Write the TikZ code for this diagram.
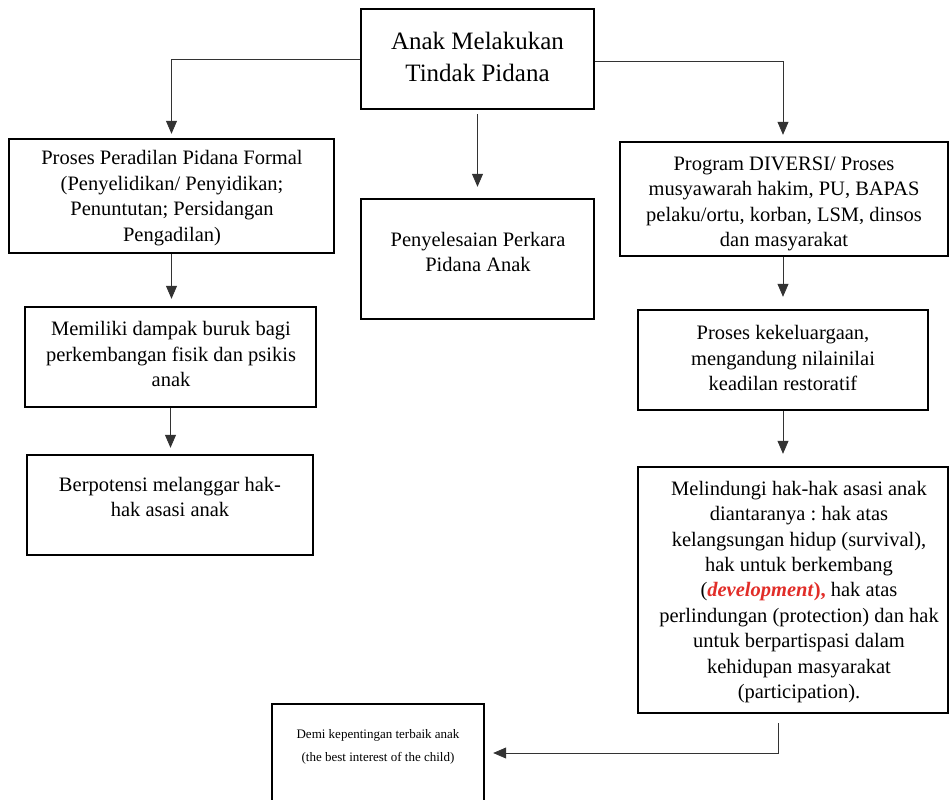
\documentclass[tikz,border=0pt]{standalone}
\usepackage{fontspec}
\setmainfont{Liberation Serif}
\usetikzlibrary{arrows.meta}
\definecolor{devred}{RGB}{225,45,40}
\frenchspacing
\tikzset{
  box/.style={draw=black, line width=2.4pt, rectangle, inner sep=0pt},
  txt/.style={align=center, inner sep=0pt, font=\fontsize{20.5}{25.4}\selectfont},
  arr/.style={draw=black!80, line width=0.8pt, -{Triangle[length=13pt,width=11pt]}}
}
\newcommand{\devword}{\textcolor{devred}{\bfseries\textit{development}),}}
\begin{document}
\begin{tikzpicture}[x=1pt,y=-1pt]
\useasboundingbox (0,0) rectangle (950,800);
% boxes
\node[box, minimum width=233pt, minimum height=100pt] (top) at (477.5,59) {};
\node[box, minimum width=325pt, minimum height=114pt] (L1) at (171.5,196) {};
\node[box, minimum width=233pt, minimum height=120pt] (M) at (477.5,259) {};
\node[box, minimum width=328pt, minimum height=114pt] (R1) at (784,199) {};
\node[box, minimum width=291pt, minimum height=100pt] (L2) at (170.5,357) {};
\node[box, minimum width=286pt, minimum height=100pt] (L3) at (170,505) {};
\node[box, minimum width=290pt, minimum height=100pt] (R2) at (783,360) {};
\node[box, minimum width=310pt, minimum height=246pt] (R3) at (793,590) {};
\node[box, minimum width=212pt, minimum height=102pt] (bot) at (378,755) {};
% texts
\node[txt, font=\fontsize{25}{32}\selectfont] (ttop) at (477.5,57) {Anak Melakukan\\Tindak Pidana};
\node[txt] (tL1) at (172,198) {Proses Peradilan Pidana Formal\\(Penyelidikan/ Penyidikan;\\Penuntutan; Persidangan\\Pengadilan)};
\node[txt] (tM) at (478,252) {Penyelesaian Perkara\\Pidana Anak};
\node[txt] (tR1) at (784,204) {Program DIVERSI/ Proses\\musyawarah hakim, PU, BAPAS\\pelaku/ortu, korban, LSM, dinsos\\dan masyarakat};
\node[txt] (tL2) at (171,354) {Memiliki dampak buruk bagi\\perkembangan fisik dan psikis\\anak};
\node[txt] (tL3) at (170,497) {Berpotensi melanggar hak-\\hak asasi anak};
\node[txt] (tR2) at (783,358) {Proses kekeluargaan,\\mengandung nilainilai\\keadilan restoratif};
\node[txt] (tR3) at (799,592) {Melindungi hak-hak asasi anak\\diantaranya : hak atas\\kelangsungan hidup (survival),\\hak untuk berkembang\\(\devword{} hak atas\\perlindungan (protection) dan hak\\untuk berpartispasi dalam\\kehidupan masyarakat\\(participation).};
\node[txt, font=\fontsize{13}{23}\selectfont] (tbot) at (378,747) {Demi kepentingan terbaik anak\\(the best interest of the child)};
% connectors
\draw[arr, shorten >=4pt] (top.west) -| (L1.north);
\draw[arr, shorten >=6pt] ([yshift=-2pt]top.east) -| ([xshift=-1pt]R1.north);
\draw[arr, shorten <=4pt, shorten >=11pt] (top.south) -- (M.north);
\draw[arr, shorten >=7pt] (L1.south) -- (L1.south |- L2.north);
\draw[arr, shorten >=6pt] (L2.south) -- (L2.south |- L3.north);
\draw[arr, shorten >=12pt] (R1.south -| R2.north) -- (R2.north);
\draw[arr, shorten >=12pt] (R2.south) -- (R2.south |- R3.north);
\coordinate (c1) at ([xshift=-15pt,yshift=-9pt]R3.south);
\draw[arr, shorten >=8pt] (c1) |- (bot.east |- 0,753);
\end{tikzpicture}
\end{document}
